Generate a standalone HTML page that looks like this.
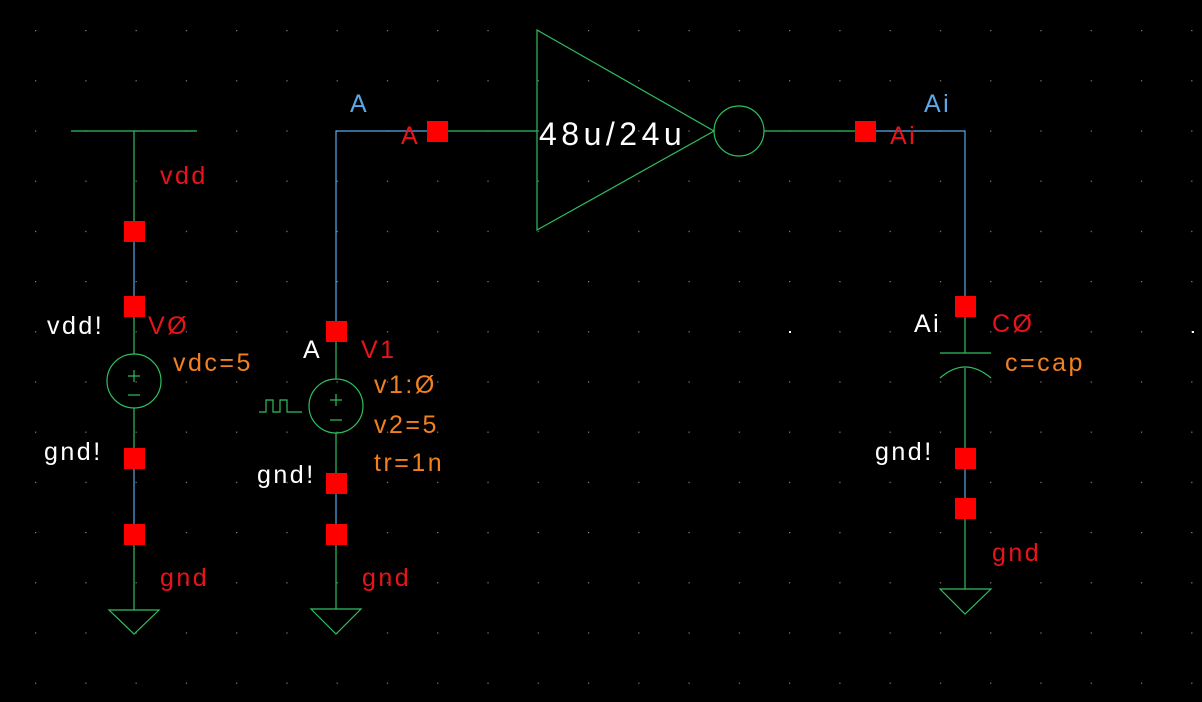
<!DOCTYPE html>
<html><head><meta charset="utf-8"><style>
html,body{margin:0;padding:0;background:#000;}
svg{display:block;}
text{font-family:"Liberation Sans",sans-serif;font-size:25px;letter-spacing:2.5px;}
.w{fill:#fff}.r{fill:#e8141a}.o{fill:#f08020}.b{fill:#5aa8e8}
</style></head><body>
<svg width="1202" height="702" viewBox="0 0 1202 702" xmlns="http://www.w3.org/2000/svg">
<defs>
<pattern id="grid" patternUnits="userSpaceOnUse" x="35" y="30" width="50.27" height="50.2">
<rect x="0" y="0" width="1.2" height="1.2" fill="#888"/>
</pattern>
</defs>
<rect width="1202" height="702" fill="#000"/>
<rect width="1202" height="702" fill="url(#grid)"/>
<g fill="none" stroke-width="1.2">
<line x1="71" y1="131" x2="197" y2="131" stroke="#2fbf5f"/>
<line x1="134" y1="131" x2="134" y2="231" stroke="#2fbf5f"/>
<line x1="134" y1="231" x2="134" y2="306" stroke="#5aa8e8"/>
<line x1="134" y1="306" x2="134" y2="354" stroke="#2fbf5f"/>
<circle cx="134" cy="381" r="27" stroke="#2fbf5f"/>
<line x1="134" y1="408" x2="134" y2="458" stroke="#2fbf5f"/>
<line x1="134" y1="458" x2="134" y2="534" stroke="#5aa8e8"/>
<line x1="134" y1="534" x2="134" y2="610" stroke="#2fbf5f"/>
<polygon points="109,610 159,610 134,634" stroke="#2fbf5f"/>
<line x1="134" y1="370" x2="134" y2="382" stroke="#2fbf5f"/><line x1="128" y1="376" x2="140" y2="376" stroke="#2fbf5f"/>
<line x1="128" y1="395" x2="140" y2="395" stroke="#2fbf5f"/>
<polyline points="437,131 336,131 336,331" stroke="#5aa8e8"/>
<line x1="336" y1="331" x2="336" y2="379" stroke="#2fbf5f"/>
<circle cx="336" cy="406" r="27" stroke="#2fbf5f"/>
<line x1="336" y1="433" x2="336" y2="483" stroke="#2fbf5f"/>
<line x1="336" y1="483" x2="336" y2="534" stroke="#5aa8e8"/>
<line x1="336" y1="534" x2="336" y2="609" stroke="#2fbf5f"/>
<polygon points="311,609 361,609 336,634" stroke="#2fbf5f"/>
<line x1="336" y1="394" x2="336" y2="406" stroke="#2fbf5f"/><line x1="330" y1="400" x2="342" y2="400" stroke="#2fbf5f"/>
<line x1="330" y1="420" x2="342" y2="420" stroke="#2fbf5f"/>
<polyline points="259,412 266,412 266,400 273,400 273,412 280,412 280,400 287,400 287,412 302,412" stroke="#2fbf5f"/>
<line x1="437" y1="131" x2="537" y2="131" stroke="#2fbf5f"/>
<polygon points="537,30 537,230 714,131" stroke="#2fbf5f"/>
<circle cx="739" cy="131" r="25" stroke="#2fbf5f"/>
<line x1="764" y1="131" x2="865" y2="131" stroke="#2fbf5f"/>
<polyline points="865,131 965,131 965,306" stroke="#5aa8e8"/>
<line x1="965" y1="306" x2="965" y2="353" stroke="#2fbf5f"/>
<line x1="940" y1="353" x2="991" y2="353" stroke="#2fbf5f"/>
<path d="M940,378 Q965,356 991,378" stroke="#2fbf5f"/>
<line x1="965" y1="368" x2="965" y2="458" stroke="#2fbf5f"/>
<line x1="965" y1="458" x2="965" y2="508" stroke="#5aa8e8"/>
<line x1="965" y1="508" x2="965" y2="589" stroke="#2fbf5f"/>
<polygon points="940,589 991,589 965,614" stroke="#2fbf5f"/>
</g>
<g fill="#ff0000">
<rect x="124" y="221" width="21" height="21"/>
<rect x="124" y="296" width="21" height="21"/>
<rect x="124" y="448" width="21" height="21"/>
<rect x="124" y="524" width="21" height="21"/>
<rect x="326" y="321" width="21" height="21"/>
<rect x="326" y="473" width="21" height="21"/>
<rect x="326" y="524" width="21" height="21"/>
<rect x="427" y="121" width="21" height="21"/>
<rect x="855" y="121" width="21" height="21"/>
<rect x="955" y="296" width="21" height="21"/>
<rect x="955" y="448" width="21" height="21"/>
<rect x="955" y="498" width="21" height="21"/>
</g>
<rect x="789" y="331" width="2" height="2" fill="#fff"/>
<rect x="1192" y="331" width="2" height="2" fill="#fff"/>
<text x="160" y="184" class="r">vdd</text>
<text x="47" y="334" class="w">vdd!</text>
<text x="148" y="334" class="r">VØ</text>
<text x="173" y="371" class="o">vdc=5</text>
<text x="44" y="460" class="w">gnd!</text>
<text x="160" y="586" class="r">gnd</text>
<text x="350" y="112" class="b">A</text>
<text x="401" y="144" class="r">A</text>
<text x="303" y="358" class="w">A</text>
<text x="361" y="358" class="r">V1</text>
<text x="374" y="393" class="o">v1:Ø</text>
<text x="374" y="433" class="o">v2=5</text>
<text x="374" y="471" class="o">tr=1n</text>
<text x="257" y="483" class="w">gnd!</text>
<text x="362" y="586" class="r">gnd</text>
<text x="539" y="145" class="w" style="font-size:32px;letter-spacing:4.5px">48u/24u</text>
<text x="924" y="112" class="b">Ai</text>
<text x="890" y="144" class="r">Ai</text>
<text x="914" y="332" class="w">Ai</text>
<text x="992" y="332" class="r">CØ</text>
<text x="1005" y="371" class="o">c=cap</text>
<text x="875" y="460" class="w">gnd!</text>
<text x="992" y="561" class="r">gnd</text>
</svg>
</body></html>
